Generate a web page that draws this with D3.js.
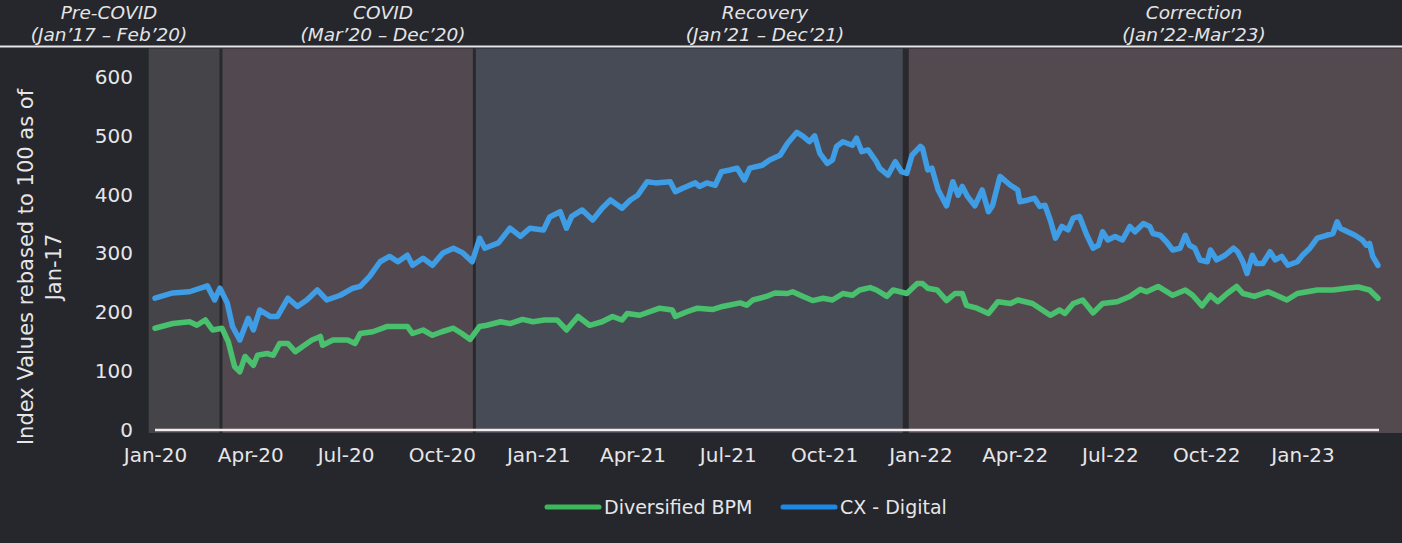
<!DOCTYPE html>
<html><head><meta charset="utf-8">
<script src="https://cdn.jsdelivr.net/npm/d3@7"></script>
<style>
html,body{margin:0;padding:0;background:#26272c;}
svg{display:block;}
</style></head>
<body><svg id="chart" width="1402" height="543"></svg>
<script>
// ---------- data ----------
const phaseTitles = ["Pre-COVID", "COVID", "Recovery", "Correction"];
const phaseSubtitles = ["(Jan\u201917 \u2013 Feb\u201920)", "(Mar\u201920 \u2013 Dec\u201920)", "(Jan\u201921 \u2013 Dec\u201921)", "(Jan\u201922-Mar\u201923)"];
const phaseStarts = ["2019-12-26", "2020-03-04", "2020-11-01", "2021-12-18"];
const phaseEnd = "2023-04-06";
const xTickDates = ["2020-01-01","2020-04-01","2020-07-01","2020-10-01","2021-01-01","2021-04-01","2021-07-01","2021-10-01","2022-01-01","2022-04-01","2022-07-01","2022-10-01","2023-01-01"];
const yTickValues = [0, 100, 200, 300, 400, 500, 600];
const seriesNames = ["Diversified BPM", "CX - Digital"];
const yAxisTitle = ["Index Values rebased to 100 as of", "Jan-17"];

const bpmDates = ["2020-01-01","2020-01-18","2020-02-03","2020-02-10","2020-02-18","2020-02-25","2020-03-05","2020-03-11","2020-03-17","2020-03-22","2020-03-27","2020-04-04","2020-04-08","2020-04-17","2020-04-23","2020-04-29","2020-05-07","2020-05-14","2020-05-21","2020-05-30","2020-06-07","2020-06-09","2020-06-19","2020-07-03","2020-07-10","2020-07-15","2020-07-27","2020-08-10","2020-08-20","2020-08-29","2020-09-03","2020-09-13","2020-09-22","2020-10-01","2020-10-12","2020-10-20","2020-10-28","2020-11-06","2020-11-13","2020-11-26","2020-12-05","2020-12-17","2020-12-27","2021-01-07","2021-01-19","2021-01-28","2021-02-08","2021-02-19","2021-03-03","2021-03-13","2021-03-22","2021-03-27","2021-04-08","2021-04-27","2021-05-09","2021-05-12","2021-05-23","2021-06-02","2021-06-17","2021-06-26","2021-07-13","2021-07-19","2021-07-25","2021-08-07","2021-08-15","2021-08-27","2021-09-01","2021-09-11","2021-09-20","2021-09-30","2021-10-09","2021-10-19","2021-10-28","2021-11-04","2021-11-14","2021-11-20","2021-11-30","2021-12-06","2021-12-19","2021-12-29","2022-01-03","2022-01-08","2022-01-17","2022-01-26","2022-02-03","2022-02-10","2022-02-14","2022-02-24","2022-03-07","2022-03-16","2022-03-28","2022-04-04","2022-04-18","2022-05-05","2022-05-14","2022-05-19","2022-05-27","2022-06-05","2022-06-15","2022-06-24","2022-07-08","2022-07-20","2022-07-30","2022-08-05","2022-08-16","2022-08-30","2022-09-11","2022-09-18","2022-09-27","2022-10-05","2022-10-12","2022-10-21","2022-10-30","2022-11-05","2022-11-16","2022-11-29","2022-12-17","2022-12-27","2023-01-15","2023-01-30","2023-02-12","2023-02-23","2023-03-06","2023-03-14"];
const bpmValues = [173,181,184,178,187,170,173,150,108,99,125,110,127,130,127,147,147,133,142,153,159,144,153,153,147,164,167,176,176,176,164,170,161,167,173,164,154,176,178,184,181,188,184,187,187,170,193,178,184,193,187,198,195,207,204,193,201,207,205,210,216,212,221,227,233,232,235,227,220,224,221,232,229,238,242,238,227,238,232,249,249,241,238,220,232,232,212,207,198,218,215,221,215,195,204,198,215,221,199,215,218,227,239,235,244,229,238,229,211,229,218,232,244,232,227,235,221,232,238,238,241,243,238,224];

const cxDates = ["2020-01-01","2020-01-18","2020-02-03","2020-02-20","2020-02-27","2020-03-03","2020-03-10","2020-03-15","2020-03-22","2020-03-30","2020-04-04","2020-04-10","2020-04-20","2020-04-27","2020-05-07","2020-05-16","2020-05-25","2020-06-04","2020-06-13","2020-06-26","2020-07-08","2020-07-15","2020-07-24","2020-08-03","2020-08-12","2020-08-20","2020-08-29","2020-09-03","2020-09-13","2020-09-22","2020-10-02","2020-10-12","2020-10-21","2020-10-30","2020-11-06","2020-11-11","2020-11-24","2020-12-05","2020-12-15","2020-12-24","2021-01-06","2021-01-12","2021-01-22","2021-01-28","2021-02-02","2021-02-12","2021-02-22","2021-03-03","2021-03-11","2021-03-22","2021-03-30","2021-04-06","2021-04-15","2021-04-23","2021-05-07","2021-05-12","2021-05-19","2021-05-31","2021-06-04","2021-06-11","2021-06-19","2021-06-25","2021-07-03","2021-07-10","2021-07-17","2021-07-22","2021-08-03","2021-08-10","2021-08-20","2021-08-27","2021-09-05","2021-09-11","2021-09-17","2021-09-22","2021-09-27","2021-10-04","2021-10-09","2021-10-13","2021-10-19","2021-10-28","2021-11-01","2021-11-06","2021-11-12","2021-11-20","2021-11-23","2021-12-01","2021-12-08","2021-12-14","2021-12-19","2021-12-24","2022-01-01","2022-01-03","2022-01-08","2022-01-12","2022-01-18","2022-01-26","2022-02-01","2022-02-06","2022-02-10","2022-02-15","2022-02-22","2022-03-01","2022-03-07","2022-03-11","2022-03-18","2022-03-28","2022-04-04","2022-04-06","2022-04-14","2022-04-20","2022-04-25","2022-04-30","2022-05-05","2022-05-10","2022-05-16","2022-05-22","2022-05-27","2022-06-02","2022-06-09","2022-06-15","2022-06-20","2022-06-24","2022-06-29","2022-07-06","2022-07-13","2022-07-20","2022-07-25","2022-08-02","2022-08-08","2022-08-11","2022-08-18","2022-08-24","2022-08-30","2022-09-06","2022-09-11","2022-09-15","2022-09-20","2022-09-25","2022-10-02","2022-10-05","2022-10-11","2022-10-19","2022-10-27","2022-10-31","2022-11-05","2022-11-09","2022-11-14","2022-11-18","2022-11-24","2022-12-01","2022-12-06","2022-12-12","2022-12-18","2022-12-27","2023-01-01","2023-01-08","2023-01-15","2023-01-24","2023-01-30","2023-02-03","2023-02-06","2023-02-13","2023-02-20","2023-02-27","2023-03-03","2023-03-06","2023-03-09","2023-03-14"];
const cxValues = [224,233,235,245,221,241,216,176,153,190,170,204,193,193,224,210,221,238,221,229,241,244,261,286,295,286,297,280,292,280,301,309,301,286,326,309,318,343,329,343,340,362,371,343,363,374,357,377,391,377,391,399,422,420,422,405,411,420,414,420,416,439,442,445,425,445,450,459,467,487,506,499,490,500,470,453,459,482,490,484,496,473,476,456,445,433,456,439,436,467,482,479,442,445,408,381,422,399,414,397,381,408,371,382,431,416,408,388,391,394,380,382,357,326,346,340,360,363,331,309,314,337,323,329,323,346,337,351,346,334,331,320,306,309,331,314,309,289,286,306,289,297,309,303,286,266,297,283,283,303,289,295,280,286,297,309,326,331,334,354,343,337,331,323,314,317,295,280];

// ---------- layout ----------
const parse = d3.timeParse("%Y-%m-%d");
const svg = d3.select("#chart");
const W = 1402, H = 543;
const bandTop = 48.5, bandBottom = 433;
const phaseFills = ["#454449", "#524950", "#474b55", "#534a50"];
const dividerWidths = [3, 3, 6];
const headerCenters = [109, 383, 765, 1194];
const colors = ["#48c06e", "#3f9de6"];
const legendColors = ["#3cb85a", "#1e88e5"];

const x = d3.scaleTime()
  .domain([parse("2020-01-01"), parse("2023-03-15")])
  .range([155, 1379]);
const y = d3.scaleLinear().domain([0, 600]).range([430, 77]);

// header
const header = svg.append("g");
phaseTitles.forEach((t, i) => {
  header.append("text")
    .attr("x", headerCenters[i]).attr("y", 19).attr("text-anchor", "middle")
    .attr("fill", "#e4e4e6")
    .style("font-family", "DejaVu Sans").style("font-style", "italic")
    .style("font-weight", 300).style("font-size", "18.5px").text(t);
  header.append("text")
    .attr("x", headerCenters[i]).attr("y", 40.5).attr("text-anchor", "middle")
    .attr("fill", "#e4e4e6")
    .style("font-family", "DejaVu Sans").style("font-style", "italic")
    .style("font-weight", 300).style("font-size", "18.5px").text(phaseSubtitles[i]);
});
svg.append("rect").attr("x", 0).attr("y", 45.5).attr("width", W).attr("height", 2)
  .attr("fill", "#e6e6e8");

// bands
const starts = phaseStarts.map(parse);
const ends = starts.slice(1).concat([parse(phaseEnd)]);
svg.append("g").selectAll("rect").data(starts).join("rect")
  .attr("x", (d) => x(d))
  .attr("y", bandTop)
  .attr("width", (d, i) => x(ends[i]) - x(d))
  .attr("height", bandBottom - bandTop)
  .attr("fill", (d, i) => phaseFills[i]);
svg.append("g").selectAll("rect").data(starts.slice(1)).join("rect")
  .attr("x", (d, i) => x(d) - dividerWidths[i] / 2)
  .attr("y", bandTop)
  .attr("width", (d, i) => dividerWidths[i])
  .attr("height", bandBottom - bandTop)
  .attr("fill", "#29292e");

// baseline
svg.append("line")
  .attr("x1", x(parse("2020-01-01"))).attr("x2", x(parse("2023-03-15")))
  .attr("y1", y(0)).attr("y2", y(0))
  .attr("stroke", "#f2eaec").attr("stroke-width", 2.5);

// axes
const yAxis = svg.append("g").attr("transform", "translate(139,0)")
  .call(d3.axisLeft(y).tickValues(yTickValues).tickSize(0).tickPadding(6));
yAxis.select(".domain").remove();
yAxis.selectAll("text").attr("fill", "#e6e6e8")
  .style("font-family", "DejaVu Sans").style("font-size", "20px");

const xAxis = svg.append("g").attr("transform", "translate(0,445)")
  .call(d3.axisBottom(x).tickValues(xTickDates.map(parse)).tickSize(0).tickPadding(3)
    .tickFormat(d3.timeFormat("%b-%y")));
xAxis.select(".domain").remove();
xAxis.selectAll("text").attr("fill", "#e6e6e8")
  .style("font-family", "DejaVu Sans").style("font-size", "20px");

// y title
const yt = svg.append("text").attr("transform", "translate(0,267) rotate(-90)")
  .attr("text-anchor", "middle").attr("fill", "#e6e6e8")
  .style("font-family", "DejaVu Sans").style("font-size", "21px");
yt.append("tspan").attr("x", 0).attr("y", 33).text(yAxisTitle[0]);
yt.append("tspan").attr("x", 0).attr("y", 61).text(yAxisTitle[1]);

// lines
const line = d3.line().x((d) => x(d[0])).y((d) => y(d[1])).curve(d3.curveLinear);
const series = [
  bpmDates.map((d, i) => [parse(d), bpmValues[i]]),
  cxDates.map((d, i) => [parse(d), cxValues[i]])
];
svg.append("g").selectAll("path").data(series).join("path")
  .attr("d", line)
  .attr("fill", "none")
  .attr("stroke", (d, i) => colors[i])
  .attr("stroke-width", 5.5)
  .attr("stroke-linejoin", "round")
  .attr("stroke-linecap", "round");

// legend
const legendX = [547, 783];
const lg = svg.append("g");
seriesNames.forEach((n, i) => {
  lg.append("line").attr("x1", legendX[i]).attr("x2", legendX[i] + 52)
    .attr("y1", 507).attr("y2", 507)
    .attr("stroke", legendColors[i]).attr("stroke-width", 5).attr("stroke-linecap", "round");
  lg.append("text").attr("x", legendX[i] + 57).attr("y", 507).attr("dy", "0.35em")
    .attr("fill", "#e6e6e8")
    .style("font-family", "DejaVu Sans").style("font-size", "19px").text(n);
});
</script>
</body></html>
